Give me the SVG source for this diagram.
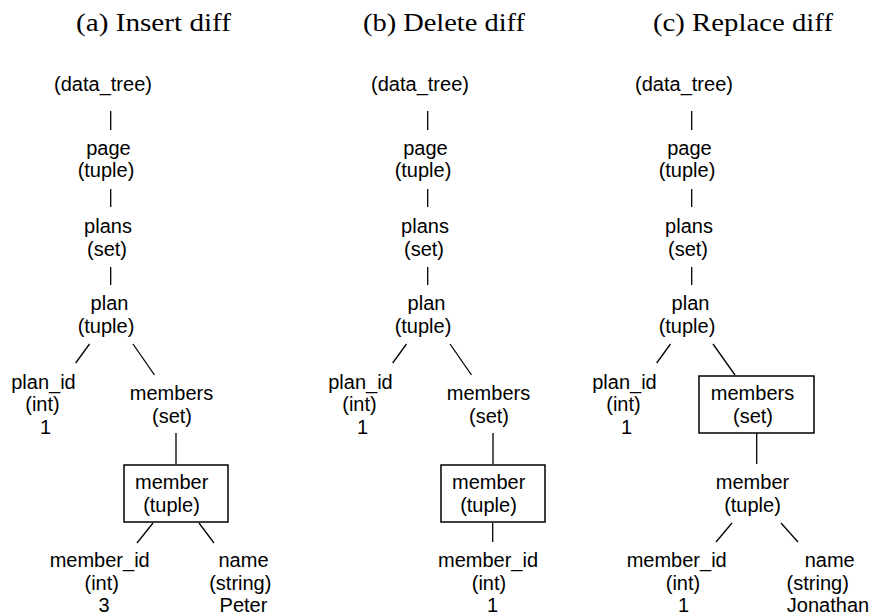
<svg xmlns="http://www.w3.org/2000/svg" width="871" height="615" viewBox="0 0 871 615">
<style>
.t{font-family:"Liberation Serif","Times New Roman",serif;font-size:25px;fill:#000;text-anchor:middle}
.n{font-family:"Liberation Sans",Arial,Helvetica,sans-serif;font-size:20px;fill:#000;text-anchor:middle}
.e{stroke:#000;stroke-width:1.3;fill:none}
.b{stroke:#000;stroke-width:1.5;fill:#fff}
</style>
<rect width="871" height="615" fill="#fff"/>
<g id="titles">
<text class="t" x="153.5" y="31" textLength="155" lengthAdjust="spacingAndGlyphs">(a) Insert diff</text>
<text class="t" x="444" y="31" textLength="162" lengthAdjust="spacingAndGlyphs">(b) Delete diff</text>
<text class="t" x="743" y="31" textLength="180" lengthAdjust="spacingAndGlyphs">(c) Replace diff</text>
</g>

<!-- Panel A -->
<g id="panel-a">
<g id="a-edges">
<line class="e" x1="110.7" y1="111" x2="110.7" y2="130"/>
<line class="e" x1="110.7" y1="189" x2="110.7" y2="207"/>
<line class="e" x1="110.7" y1="267" x2="110.7" y2="285"/>
<line class="e" x1="89.5" y1="344" x2="75.7" y2="363"/>
<line class="e" x1="133" y1="344" x2="154.5" y2="375"/>
<line class="e" x1="176" y1="433" x2="176" y2="464"/>
<line class="e" x1="153" y1="523" x2="137" y2="543"/>
<line class="e" x1="199" y1="523" x2="214" y2="543"/>
</g>
<g id="a-root"><text class="n" x="103" y="91">(data_tree)</text></g>
<g id="a-page"><text class="n" x="108.5" y="154.5">page</text><text class="n" x="106" y="177">(tuple)</text></g>
<g id="a-plans"><text class="n" x="108" y="233">plans</text><text class="n" x="107" y="255.5">(set)</text></g>
<g id="a-plan"><text class="n" x="109.5" y="310">plan</text><text class="n" x="106" y="332.5">(tuple)</text></g>
<g id="a-plan_id"><text class="n" x="43.5" y="389">plan_id</text><text class="n" x="42.5" y="411">(int)</text><text class="n" x="45.5" y="433.5">1</text></g>
<g id="a-members"><text class="n" x="171.5" y="400">members</text><text class="n" x="172" y="422.5">(set)</text></g>
<g id="a-member"><rect class="b" x="124" y="465" width="104" height="57"/><text class="n" x="171.7" y="489">member</text><text class="n" x="171.5" y="511.5">(tuple)</text></g>
<g id="a-member_id"><text class="n" x="99.7" y="567">member_id</text><text class="n" x="101.7" y="589.5">(int)</text><text class="n" x="104" y="612">3</text></g>
<g id="a-name"><text class="n" x="243.5" y="567">name</text><text class="n" x="240.3" y="589.5">(string)</text><text class="n" x="243.5" y="612">Peter</text></g>
</g>

<!-- Panel B -->
<g id="panel-b" transform="translate(317,0)">
<g id="b-edges">
<line class="e" x1="110.7" y1="111" x2="110.7" y2="130"/>
<line class="e" x1="110.7" y1="189" x2="110.7" y2="207"/>
<line class="e" x1="110.7" y1="267" x2="110.7" y2="285"/>
<line class="e" x1="89.5" y1="344" x2="75.7" y2="363"/>
<line class="e" x1="133" y1="344" x2="154.5" y2="375"/>
<line class="e" x1="176" y1="433" x2="176" y2="464"/>
<line class="e" x1="175.7" y1="523" x2="175.7" y2="542"/>
</g>
<g id="b-root"><text class="n" x="103" y="91">(data_tree)</text></g>
<g id="b-page"><text class="n" x="108.5" y="154.5">page</text><text class="n" x="106" y="177">(tuple)</text></g>
<g id="b-plans"><text class="n" x="108" y="233">plans</text><text class="n" x="107" y="255.5">(set)</text></g>
<g id="b-plan"><text class="n" x="109.5" y="310">plan</text><text class="n" x="106" y="332.5">(tuple)</text></g>
<g id="b-plan_id"><text class="n" x="43.5" y="389">plan_id</text><text class="n" x="42.5" y="411">(int)</text><text class="n" x="45.5" y="433.5">1</text></g>
<g id="b-members"><text class="n" x="171.5" y="400">members</text><text class="n" x="172" y="422.5">(set)</text></g>
<g id="b-member"><rect class="b" x="124" y="465" width="104" height="57"/><text class="n" x="171.7" y="489">member</text><text class="n" x="171.5" y="511.5">(tuple)</text></g>
<g id="b-member_id"><text class="n" x="171" y="567">member_id</text><text class="n" x="172" y="589.5">(int)</text><text class="n" x="175.5" y="612">1</text></g>
</g>

<!-- Panel C -->
<g id="panel-c" transform="translate(581,0)">
<g id="c-edges">
<line class="e" x1="110.7" y1="111" x2="110.7" y2="130"/>
<line class="e" x1="110.7" y1="189" x2="110.7" y2="207"/>
<line class="e" x1="110.7" y1="267" x2="110.7" y2="285"/>
<line class="e" x1="89.5" y1="344" x2="75.7" y2="363"/>
<line class="e" x1="132" y1="344" x2="154" y2="375"/>
<line class="e" x1="175.7" y1="433" x2="175.7" y2="464"/>
<line class="e" x1="151" y1="523" x2="135" y2="542"/>
<line class="e" x1="200" y1="523" x2="217" y2="542"/>
</g>
<g id="c-root"><text class="n" x="103" y="91">(data_tree)</text></g>
<g id="c-page"><text class="n" x="108.5" y="154.5">page</text><text class="n" x="106" y="177">(tuple)</text></g>
<g id="c-plans"><text class="n" x="108" y="233">plans</text><text class="n" x="107" y="255.5">(set)</text></g>
<g id="c-plan"><text class="n" x="109.5" y="310">plan</text><text class="n" x="106" y="332.5">(tuple)</text></g>
<g id="c-plan_id"><text class="n" x="43.5" y="389">plan_id</text><text class="n" x="42.5" y="411">(int)</text><text class="n" x="45.5" y="433.5">1</text></g>
<g id="c-members"><rect class="b" x="118" y="376" width="115" height="57"/><text class="n" x="171.5" y="400">members</text><text class="n" x="172" y="422.5">(set)</text></g>
<g id="c-member"><text class="n" x="171.5" y="489">member</text><text class="n" x="171.5" y="511.5">(tuple)</text></g>
<g id="c-member_id"><text class="n" x="95.7" y="567">member_id</text><text class="n" x="102" y="589.5">(int)</text><text class="n" x="102.5" y="612">1</text></g>
<g id="c-name"><text class="n" x="248.7" y="567">name</text><text class="n" x="236.7" y="589.5">(string)</text><text class="n" x="247" y="612">Jonathan</text></g>
</g>
</svg>
